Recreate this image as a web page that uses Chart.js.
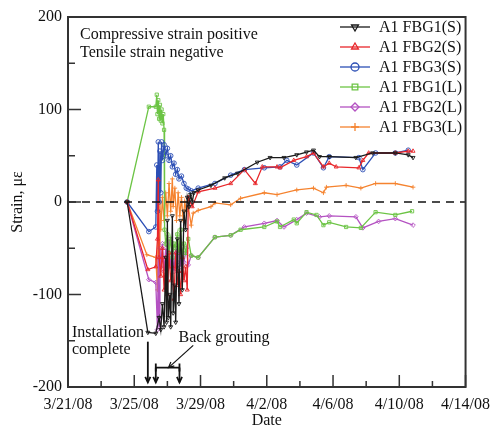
<!DOCTYPE html>
<html>
<head>
<meta charset="utf-8">
<script src="https://cdn.jsdelivr.net/npm/chart.js@4.4.0/dist/chart.umd.min.js"></script>
<style>
html, body { margin: 0; padding: 0; background: #fff; }
</style>
</head>
<body>
<canvas id="chart" width="498" height="425"></canvas>
<script>
// x values are days since 3/21/08
const dateLabels = ['3/21/08', '3/25/08', '3/29/08', '4/2/08', '4/6/08', '4/10/08', '4/14/08'];
const yTicks = [-200, -100, 0, 100, 200];

const fbg1sDays = [3.57,4.82,5.3,5.5,5.6,5.7,5.8,5.9,5.95,6.0,6.05,6.15,6.2,6.3,6.35,6.45,6.5,6.6,6.7,6.8,6.9,7.0,7.1,7.2,7.3,7.4,7.5,7.6,7.86,8.63,9.46,10.24,11.43,12.2,13.04,13.81,14.4,14.82,15.18,15.77,17.38,18.39,19.76,20.54,20.83];
const fbg1sVals = [0,-141,-142,-125,-138,-110,-135,-60,-130,-20,-125,-100,-135,-15,-120,-90,-130,-40,-110,-20,-95,-10,-30,5,-5,8,0,10,13,18,26,31,43,48,48,51,54,56,49,49,48,53,53,51,48];

const fbg2sDays = [3.57,4.82,5.3,5.4,5.45,5.5,5.6,5.7,5.8,5.9,6.0,6.1,6.2,6.3,6.4,6.5,6.6,6.7,6.8,6.9,7.0,7.1,7.2,7.26,7.5,7.86,8.87,9.82,10.65,11.31,11.73,12.62,12.8,13.63,14.4,14.82,15.42,15.77,16.19,17.56,17.8,18.15,19.76,20.54,20.83];
const fbg2sVals = [0,-73,-70,-40,24,-60,-80,-50,-95,-60,-100,-55,-85,-70,-105,-55,-90,-75,-100,-60,-85,-70,-95,5,-5,11,15,20,35,20,38,38,37,45,49,53,38,42,38,37,45,53,53,55,55];

const fbg3sDays = [3.57,4.88,5.3,5.36,5.4,5.45,5.5,5.55,5.6,5.65,5.7,5.8,5.9,6.0,6.1,6.2,6.3,6.4,6.5,6.6,6.7,6.85,7.0,7.14,7.26,7.44,7.86,8.87,9.82,10.65,11.85,12.8,13.21,13.81,14.82,15.42,15.77,17.56,17.8,18.57,19.76,20.54];
const fbg3sVals = [0,-32,-27,40,-10,65,0,55,10,65,45,62,50,58,45,50,38,42,30,35,25,28,20,15,14,12,15,20,29,35,37,38,45,40,53,37,49,48,35,53,53,56];

const fbg1lDays = [3.57,4.88,5.3,5.36,5.4,5.45,5.5,5.55,5.6,5.65,5.7,5.75,5.8,5.83,5.9,6.0,6.1,6.2,6.3,6.4,6.5,6.6,6.7,6.8,6.9,7.0,7.1,7.26,7.44,7.86,8.87,9.82,10.42,11.85,12.62,12.8,13.63,13.81,14.4,15.0,15.42,15.77,16.79,17.68,18.57,19.76,20.77];
const fbg1lVals = [0,103,103,116,95,110,90,105,88,100,85,95,78,-30,-45,-35,-55,-40,-60,-45,-50,-35,-55,-30,-60,-45,-55,-40,-58,-60,-38,-36,-30,-27,-21,-27,-19,-23,-11,-14,-25,-22,-27,-28,-11,-14,-10];

const fbg2lDays = [3.57,4.88,5.3,5.4,5.45,5.5,5.55,5.6,5.7,5.8,5.9,6.0,6.1,6.2,6.3,6.4,6.5,6.6,6.7,6.8,6.9,7.0,7.14,7.26,7.44,7.86,8.87,9.82,10.65,11.85,12.62,13.04,13.81,14.4,15.18,15.77,17.38,17.8,18.75,19.76,20.83];
const fbg2lVals = [0,-84,-87,-138,-60,-135,-50,-70,-45,-75,-50,-65,-40,-70,-55,-75,-50,-65,-45,-70,-55,-65,-50,-68,-58,-60,-38,-36,-27,-23,-20,-27,-19,-12,-16,-15,-16,-28,-21,-18,-25];

const fbg3lDays = [3.57,4.76,5.3,5.4,5.45,5.5,5.55,5.6,5.7,5.8,5.9,6.0,6.1,6.2,6.3,6.35,6.45,6.55,6.65,6.75,6.85,6.95,7.05,7.14,7.26,7.44,7.56,7.86,8.63,8.87,9.82,10.42,11.85,12.62,13.81,14.82,15.42,15.6,16.79,17.68,18.57,19.76,20.83];
const fbg3lVals = [0,-57,-60,-95,-10,-80,0,-30,5,-20,10,-15,20,-10,25,-5,15,-20,10,-15,5,-20,0,-10,-5,-25,-12,-9,-5,-1,-3,4,10,8,13,15,10,16,18,15,20,20,16];

const zip = (xs, ys) => xs.map((x, i) => ({ x: x, y: ys[i] }));

const series = [
  { label: 'A1 FBG1(S)', days: fbg1sDays, vals: fbg1sVals, color: '#1a1a1a', style: 'triangle', rot: 180 },
  { label: 'A1 FBG2(S)', days: fbg2sDays, vals: fbg2sVals, color: '#e8262a', style: 'triangle', rot: 0 },
  { label: 'A1 FBG3(S)', days: fbg3sDays, vals: fbg3sVals, color: '#2c4fb5', style: 'circle', rot: 0 },
  { label: 'A1 FBG1(L)', days: fbg1lDays, vals: fbg1lVals, color: '#6cc445', style: 'rect', rot: 0 },
  { label: 'A1 FBG2(L)', days: fbg2lDays, vals: fbg2lVals, color: '#b452c2', style: 'rectRot', rot: 0 },
  { label: 'A1 FBG3(L)', days: fbg3lDays, vals: fbg3lVals, color: '#f5832f', style: 'cross', rot: 0 }
];

const serif = "'Liberation Serif', 'Times New Roman', serif";
Chart.defaults.font.family = serif;
Chart.defaults.font.size = 16;
Chart.defaults.color = '#111';

const extras = {
  id: 'extras',
  afterDraw(chart) {
    const ctx = chart.ctx;
    const a = chart.chartArea;
    const xs = chart.scales.x, ys = chart.scales.y;
    ctx.save();

    // zero line
    ctx.strokeStyle = '#111';
    ctx.lineWidth = 1.5;
    ctx.setLineDash([8, 6]);
    ctx.beginPath();
    ctx.moveTo(a.left, ys.getPixelForValue(0));
    ctx.lineTo(a.right, ys.getPixelForValue(0));
    ctx.stroke();
    ctx.setLineDash([]);

    // frame
    ctx.strokeStyle = '#333';
    ctx.lineWidth = 2;
    ctx.strokeRect(a.left, a.top, a.right - a.left, a.bottom - a.top);

    // inward ticks
    ctx.lineWidth = 1.5;
    ctx.beginPath();
    for (let d = 0; d <= 24; d += 2) {
      const px = xs.getPixelForValue(d);
      ctx.moveTo(px, a.bottom);
      ctx.lineTo(px, a.bottom - (d % 4 === 0 ? 12 : 6));
    }
    for (let v = -200; v <= 200; v += 50) {
      const py = ys.getPixelForValue(v);
      ctx.moveTo(a.left, py);
      ctx.lineTo(a.left + (v % 100 === 0 ? 13 : 7), py);
    }
    ctx.stroke();

    // notes
    ctx.fillStyle = '#111';
    ctx.font = '16px ' + serif;
    ctx.textAlign = 'left';
    ctx.textBaseline = 'middle';
    ctx.fillText('Compressive strain positive', a.left + 12, 35);
    ctx.fillText('Tensile strain negative', a.left + 12, 53);
    ctx.fillText('Installation', a.left + 4, 333);
    ctx.fillText('complete', a.left + 4, 350);
    ctx.fillText('Back grouting', xs.getPixelForValue(6.67), 338);

    // arrows
    const head = (x, y, ang) => {
      ctx.beginPath();
      ctx.moveTo(x + 6 * Math.cos(ang + 2.7), y + 6 * Math.sin(ang + 2.7));
      ctx.lineTo(x, y);
      ctx.lineTo(x + 6 * Math.cos(ang - 2.7), y + 6 * Math.sin(ang - 2.7));
      ctx.stroke();
    };
    ctx.strokeStyle = '#111';
    ctx.lineWidth = 1.8;
    const yEnd = ys.getPixelForValue(-195);
    const yBr = ys.getPixelForValue(-179);
    [[4.82, ys.getPixelForValue(-151)], [5.3, yBr], [6.73, yBr]].forEach(([d, y0]) => {
      const px = xs.getPixelForValue(d);
      ctx.beginPath();
      ctx.moveTo(px, y0);
      ctx.lineTo(px, yEnd);
      ctx.stroke();
      head(px, yEnd, Math.PI / 2);
    });
    const bx0 = xs.getPixelForValue(5.3), bx1 = xs.getPixelForValue(6.73);
    ctx.beginPath();
    ctx.moveTo(bx0, yBr);
    ctx.lineTo(bx1, yBr);
    ctx.moveTo(bx0, yBr - 4);
    ctx.lineTo(bx0, yBr + 4);
    ctx.moveTo(bx1, yBr - 4);
    ctx.lineTo(bx1, yBr + 4);
    ctx.stroke();
    const sx = xs.getPixelForValue(7.56), sy = ys.getPixelForValue(-155);
    const ex = xs.getPixelForValue(6.07), ey = yBr;
    ctx.lineWidth = 1.2;
    ctx.beginPath();
    ctx.moveTo(sx, sy);
    ctx.lineTo(ex, ey);
    ctx.stroke();
    head(ex, ey, Math.atan2(ey - sy, ex - sx));

    // legend
    chart.data.datasets.forEach((ds, i) => {
      const y = 27 + i * 20;
      ctx.strokeStyle = ds.borderColor;
      ctx.fillStyle = 'rgba(0,0,0,0)';
      ctx.lineWidth = 1.3;
      ctx.beginPath();
      ctx.moveTo(340, y);
      ctx.lineTo(370, y);
      ctx.stroke();
      Chart.helpers.drawPoint(ctx, { pointStyle: ds.pointStyle, radius: 4, rotation: ds.pointRotation, borderWidth: 1.2 }, 355, y);
      ctx.fillStyle = '#111';
      ctx.fillText(ds.label, 379, y + 1);
    });
    ctx.restore();
  }
};

new Chart(document.getElementById('chart'), {
  type: 'line',
  data: {
    datasets: series.map(s => ({
      label: s.label,
      data: zip(s.days, s.vals),
      borderColor: s.color,
      backgroundColor: 'rgba(0,0,0,0)',
      borderWidth: 1.3,
      pointStyle: s.style,
      pointRotation: s.rot,
      pointRadius: 2.3,
      pointBorderWidth: 0.9,
      pointBorderColor: s.color,
      pointBackgroundColor: 'rgba(0,0,0,0)',
      tension: 0
    }))
  },
  options: {
    responsive: false,
    animation: false,
    layout: { padding: { left: 0, top: 17, right: 27, bottom: 0 } },
    plugins: { legend: { display: false }, tooltip: { enabled: false } },
    scales: {
      x: {
        type: 'linear',
        min: 0,
        max: 24,
        grid: { display: false, drawTicks: false },
        border: { display: false },
        ticks: { stepSize: 4, padding: 8, maxRotation: 0, callback: v => dateLabels[v / 4] },
        title: { display: true, text: 'Date', padding: { top: 0, bottom: -4 }, font: { size: 16, lineHeight: 1 } },
        afterFit: s => { s.height = 38; }
      },
      y: {
        min: yTicks[0],
        max: yTicks[yTicks.length - 1],
        grid: { display: false, drawTicks: false },
        border: { display: false },
        ticks: { stepSize: 100, padding: 6 },
        title: { display: true, text: 'Strain, με', padding: { top: 8, bottom: 0 }, font: { size: 16 } },
        afterFit: s => { s.width = 68; }
      }
    }
  },
  plugins: [extras]
});
</script>
</body>
</html>
